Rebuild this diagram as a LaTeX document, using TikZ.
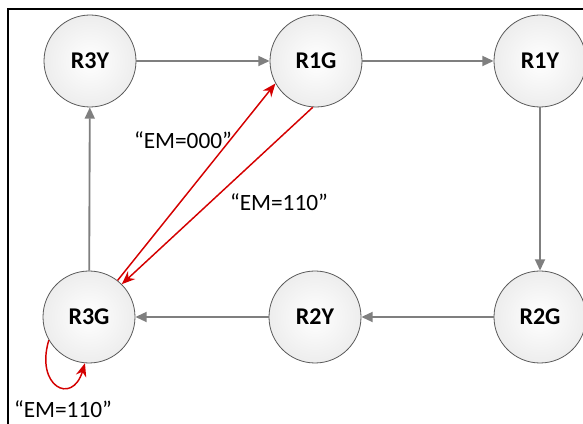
\documentclass[tikz,border=0pt]{standalone}
\usepackage{fontspec}
\setmainfont{Carlito}
\usetikzlibrary{arrows.meta}
\definecolor{flowgray}{HTML}{7F7F7F}
\definecolor{rimgray}{HTML}{595959}
\definecolor{emred}{HTML}{D40000}
\tikzset{
  lamp/.style={circle, draw=rimgray, line width=0.6pt, minimum size=69pt,
    inner sep=0pt, inner color=white, outer color=gray!14,
    font=\fontsize{18}{21}\selectfont\bfseries},
  flow/.style={draw=flowgray, line width=1.4pt, -{Triangle[length=8.5pt,width=7.5pt]}},
  emflow/.style={draw=emred, line width=1.1pt, -{Stealth[length=10pt,width=8pt]}},
  emtext/.style={font=\fontsize{17.5}{21}\selectfont}
}
\begin{document}
\begin{tikzpicture}[x=0.75pt,y=0.75pt]
                \useasboundingbox (0,0) rectangle (583,424);
                % ===== frame =====
                \draw[line width=1.6pt] (8,0) -- (8,415) -- (583,415);

                % ===== states =====
                \node[lamp] (r3y) at (90,363) {R3Y};
                \node[lamp] (r1g) at (316,363) {R1G};
                \node[lamp] (r1y) at (540,363) {R1Y};
                \node[lamp] (r3g) at (89,107) {R3G};
                \node[lamp] (r2y) at (315,107) {R2Y};
                \node[lamp] (r2g) at (540,107) {R2G};

                % ===== normal cycle =====
                \draw[flow] (r3y) -- (r1g);
                \draw[flow] (r1g) -- (r1y);
                \draw[flow] (r1y) -- (r2g);
                \draw[flow] (r2g) -- (r2y);
                \draw[flow] (r2y) -- (r3g);
                \draw[flow] (r3g) -- (r3y);

                % ===== emergency transitions =====
                \draw[emflow] (r3g.52) -- (r1g.209);
                \draw[emflow] (r1g.266) -- (r3g.45);
                \draw[emflow] (r3g.210) .. controls (35,38) and (72,18) .. (r3g.265);

                % ===== labels =====
                \node[emtext] (em0) at (183,284) {“EM=000”};
                \node[emtext] (em1) at (279,222) {“EM=110”};
                \node[emtext] (em2) at (63,15) {“EM=110”};
\end{tikzpicture}
\end{document}
